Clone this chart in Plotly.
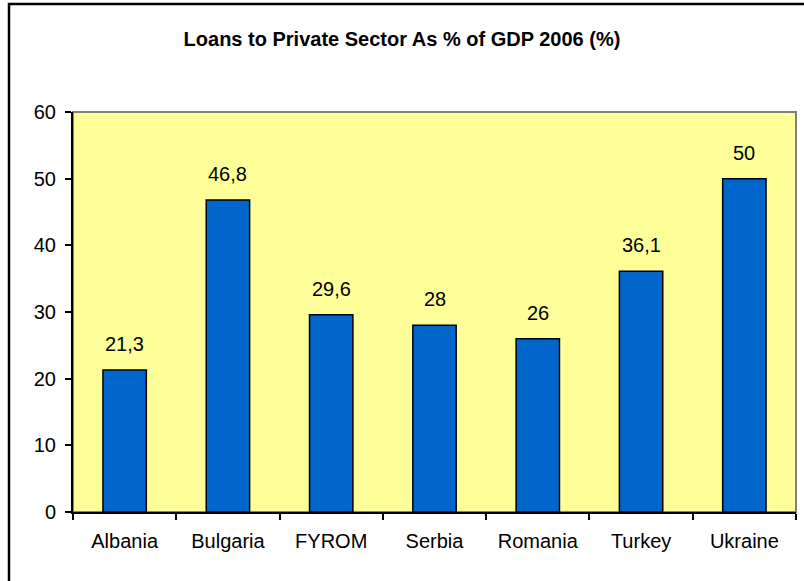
import plotly.graph_objects as go

countries = ["Albania", "Bulgaria", "FYROM", "Serbia", "Romania", "Turkey", "Ukraine"]
loans_pct_gdp = [21.3, 46.8, 29.6, 28, 26, 36.1, 50]
y_ticks = [0, 10, 20, 30, 40, 50, 60]


def fmt(v):
    # comma as decimal separator
    return (f"{v:g}").replace(".", ",")


FONT = "Liberation Sans, Arial, sans-serif"

W, H = 804, 581
L, R, T, B = 73, 8, 112, 69
pw, ph = W - L - R, H - T - B


def px_to_paper_x(px):
    return (px - L) / pw


def px_to_paper_y(py):
    return (H - B - py) / ph


fig = go.Figure()
fig.add_trace(go.Bar(
    x=countries,
    y=loans_pct_gdp,
    marker=dict(color="#0066CC", line=dict(color="#000000", width=1.5)),
    width=0.42,
    hoverinfo="x+y",
))

annotations = [
    dict(x=c, y=v, text=fmt(v), showarrow=False, yanchor="bottom", yshift=13,
         font=dict(family=FONT, size=20, color="#000000"))
    for c, v in zip(countries, loans_pct_gdp)
]

shapes = [
    # gray frame round the plotting area
    dict(type="rect", xref="paper", yref="paper", x0=0, x1=1, y0=0, y1=1,
         line=dict(color="#808080", width=2), layer="below"),
    # black frame round the whole chart
    dict(type="rect", xref="paper", yref="paper",
         x0=px_to_paper_x(9), x1=px_to_paper_x(W + 5),
         y0=px_to_paper_y(H + 5), y1=px_to_paper_y(4),
         line=dict(color="#000000", width=2.5), layer="below"),
]

fig.update_layout(
    width=W, height=H,
    margin=dict(l=L, r=R, t=T, b=B),
    paper_bgcolor="#FFFFFF",
    plot_bgcolor="#FFFF99",
    showlegend=False,
    title=dict(text="<b>Loans to Private Sector As % of GDP 2006 (%)</b>",
               x=0.5, xanchor="center", y=1 - 39 / H, yanchor="middle",
               font=dict(family=FONT, size=20, color="#000000")),
    font=dict(family=FONT, color="#000000"),
    annotations=annotations,
    shapes=shapes,
    xaxis=dict(
        type="category",
        showline=True, linecolor="#000000", linewidth=2,
        ticks="outside", ticklen=6, tickcolor="#000000", tickwidth=1.5,
        tickson="boundaries",
        showgrid=False,
        tickfont=dict(family=FONT, size=20, color="#000000"),
        ticklabelstandoff=10,
    ),
    yaxis=dict(
        range=[0, 60],
        tickvals=y_ticks,
        showline=True, linecolor="#000000", linewidth=2,
        ticks="outside", ticklen=6, tickcolor="#000000", tickwidth=1.5,
        showgrid=False, zeroline=False,
        tickfont=dict(family=FONT, size=20, color="#000000"),
        ticklabelstandoff=5,
    ),
)

fig.write_html("out.html")
